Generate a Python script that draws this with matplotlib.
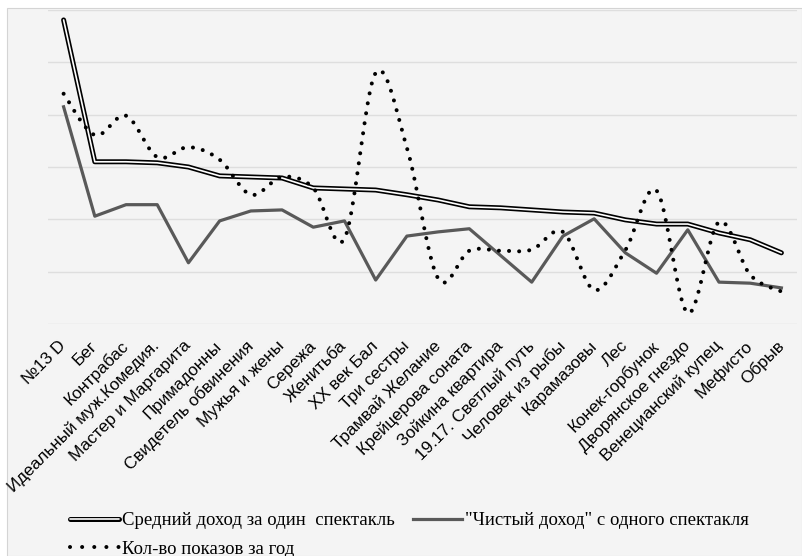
import numpy as np
import matplotlib.pyplot as plt
from matplotlib.lines import Line2D
from matplotlib.patches import Rectangle

# Performances (category axis)
plays = ['№13 D', 'Бег', 'Контрабас', 'Идеальный муж.Комедия.', 'Мастер и Маргарита',
         'Примадонны', 'Свидетель обвинения', 'Мужья и жены', 'Сережа', 'Женитьба',
         'XX век Бал', 'Три сестры', 'Трамвай Желание', 'Крейцерова соната',
         'Зойкина квартира', '19.17. Светлый путь', 'Человек из рыбы', 'Карамазовы',
         'Лес', 'Конек-горбунок', 'Дворянское гнездо', 'Венецианский купец',
         'Мефисто', 'Обрыв']

# Values (relative units, no axis labels in the original)
avg_income = [5.81, 3.10, 3.10, 3.08, 3.00, 2.83, 2.81, 2.79, 2.60, 2.58, 2.56, 2.47,
              2.37, 2.24, 2.22, 2.18, 2.14, 2.12, 1.99, 1.91, 1.91, 1.74, 1.61, 1.36]
net_income = [4.15, 2.06, 2.28, 2.28, 1.17, 1.97, 2.16, 2.18, 1.85, 1.97, 0.84, 1.68,
              1.76, 1.82, 1.31, 0.80, 1.68, 2.01, 1.36, 0.97, 1.80, 0.80, 0.78, 0.69]
shows_per_year = [4.40, 3.61, 3.98, 3.19, 3.38, 3.14, 2.47, 2.81, 2.60, 1.63, 4.80, 3.37,
                  0.87, 1.40, 1.40, 1.42, 1.76, 0.65, 1.41, 2.55, 0.21, 1.95, 0.94, 0.62]

labels = ['Средний доход за один  спектакль', '"Чистый доход" с одного спектакля',
          'Кол-во показов за год']


def smooth(x, y, n=24):
    # Catmull-Rom curve, close to Excel's "smoothed line"
    x = np.asarray(x, float)
    y = np.asarray(y, float)
    px = np.concatenate([[x[0]], x, [x[-1]]])
    py = np.concatenate([[y[0]], y, [y[-1]]])
    t = np.linspace(0, 1, n, endpoint=False)[:, None]
    out_x, out_y = [], []
    for i in range(len(x) - 1):
        for p, out in ((px, out_x), (py, out_y)):
            p0, p1, p2, p3 = p[i:i + 4]
            seg = 0.5 * (2 * p1 + (-p0 + p2) * t + (2 * p0 - 5 * p1 + 4 * p2 - p3) * t ** 2
                         + (-p0 + 3 * p1 - 3 * p2 + p3) * t ** 3)
            out.extend(seg.ravel())
    out_x.append(x[-1])
    out_y.append(y[-1])
    return np.array(out_x), np.array(out_y)


W, H = 802, 556
fig = plt.figure(figsize=(W / 100, H / 100), dpi=100)
fig.patch.set_facecolor('white')
fig.patches.append(Rectangle((7 / W, 0), 1 - 7 / W, 1 - 8 / H, transform=fig.transFigure,
                             facecolor='#f4f4f4', edgecolor='#d4d4d4', lw=0.8, zorder=-5))

ax = fig.add_axes([48 / W, 1 - 324 / H, 749 / W, 314 / H])
ax.set_facecolor('none')
x = np.arange(len(plays))

ax.plot(x, avg_income, color='black', lw=3.6, solid_joinstyle='round',
        solid_capstyle='round', zorder=3)
ax.plot(x, avg_income, color='white', lw=1.2, solid_joinstyle='round',
        solid_capstyle='round', zorder=3.1)
ax.plot(x, net_income, color='#595959', lw=2.3, zorder=2)
sx, sy = smooth(x, shows_per_year)
ax.plot(sx, sy, color='black', lw=2.9, dashes=(0.01, 2.5), dash_capstyle='round', zorder=4)

ax.set_xlim(-0.5, len(plays) - 0.5)
ax.set_ylim(0, 6)
ax.set_yticks(np.arange(0, 7))
ax.set_yticklabels([])
ax.grid(axis='y', color='#dedede', lw=1)
ax.set_axisbelow(True)
for s in ax.spines.values():
    s.set_visible(False)
ax.tick_params(length=0)
ax.set_xticks(x)
ax.set_xticklabels(plays, rotation=45, ha='right', va='center', rotation_mode='anchor',
                   fontsize=12.3, family='Liberation Sans')
ax.tick_params(axis='x', pad=14)

h_avg = (Line2D([], [], color='black', lw=3.6, solid_capstyle='round'),
         Line2D([], [], color='white', lw=1.2, solid_capstyle='round'))
h_net = Line2D([], [], color='#595959', lw=2.3)
h_shows = Line2D([], [], color='black', lw=2.9, dashes=(0.01, 3.0), dash_capstyle='round')
fig.legend([h_avg, h_shows, h_net], [labels[0], labels[2], labels[1]], ncol=2,
           loc='upper left', bbox_to_anchor=(70 / W, 1 - 512 / H), frameon=False,
           prop={'family': 'Liberation Serif', 'size': 13.5}, handlelength=2.6,
           handletextpad=0.15, columnspacing=1.0, labelspacing=0.6, borderpad=0,
           borderaxespad=0)

fig.savefig('out.png', dpi=100)
